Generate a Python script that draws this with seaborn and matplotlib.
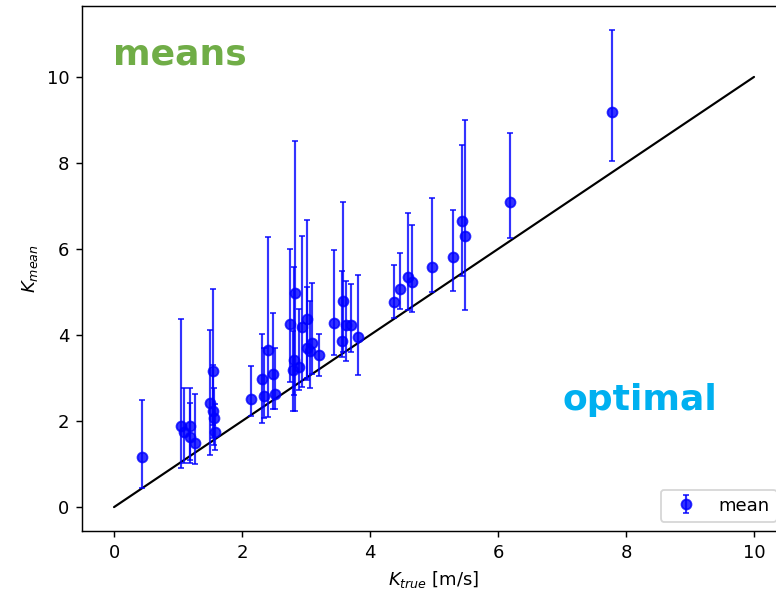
import numpy as np
import pandas as pd
import matplotlib
matplotlib.use("Agg")
import matplotlib.pyplot as plt
import seaborn as sns

# True vs. mean estimates with lower / upper bounds of each estimate
k_true = [0.44, 1.04, 1.09, 1.19, 1.19, 1.27, 1.50, 1.54, 1.55, 1.56, 1.57,
          2.14, 2.32, 2.35, 2.40, 2.48, 2.51, 2.75, 2.80, 2.82, 2.83, 2.89,
          2.93, 3.01, 3.02, 3.06, 3.10, 3.21, 3.44, 3.56, 3.58, 3.62, 3.70,
          3.82, 4.37, 4.47, 4.60, 4.66, 4.97, 5.30, 5.44, 5.49, 6.19, 7.78]
k_mean = [1.16, 1.88, 1.75, 1.89, 1.64, 1.50, 2.41, 2.24, 3.17, 2.06, 1.75,
          2.51, 2.98, 2.59, 3.65, 3.10, 2.64, 4.26, 3.19, 3.42, 4.98, 3.25,
          4.19, 4.37, 3.69, 3.63, 3.82, 3.53, 4.29, 3.85, 4.80, 4.23, 4.23,
          3.96, 4.76, 5.06, 5.36, 5.24, 5.57, 5.82, 6.64, 6.31, 7.10, 9.19]
k_low = [0.44, 0.90, 1.03, 1.03, 1.10, 1.01, 1.21, 1.60, 1.90, 1.45, 1.33,
         2.12, 1.96, 2.07, 2.09, 2.27, 2.27, 2.90, 2.23, 2.60, 2.23, 2.72,
         2.80, 3.00, 2.95, 2.78, 3.10, 3.05, 3.53, 3.50, 3.60, 3.40, 3.60,
         3.07, 4.39, 4.60, 4.58, 4.54, 4.99, 5.02, 5.37, 4.58, 6.26, 8.05]
k_high = [2.49, 4.37, 2.78, 2.77, 2.43, 2.64, 4.12, 3.30, 5.08, 2.78, 2.40,
          3.29, 4.02, 3.70, 6.29, 4.52, 3.69, 5.99, 4.10, 5.57, 8.50, 4.60,
          6.30, 6.67, 5.11, 4.80, 5.20, 4.02, 5.98, 5.50, 7.10, 5.25, 5.19,
          5.40, 5.63, 5.90, 6.84, 6.56, 7.18, 6.91, 8.42, 9.00, 8.70, 11.09]
ref_line = [0, 10]

df = pd.DataFrame({"true": k_true, "mean": k_mean, "low": k_low, "high": k_high})

sns.set_style("ticks", rc={
    "axes.edgecolor": "black",
    "axes.labelcolor": "black",
    "xtick.color": "black",
    "ytick.color": "black",
    "text.color": "black",
    "axes.linewidth": 1.0,
})
plt.rcParams["font.family"] = ["DejaVu Sans"]
plt.rcParams["mathtext.fontset"] = "dejavusans"

fig = plt.figure(figsize=(776 / 130, 595 / 130), dpi=130)
ax = fig.add_axes([0.1057, 0.1076, 0.9072, 0.8824])

yerr = np.vstack([df["mean"] - df["low"], df["high"] - df["mean"]])
ax.errorbar(df["true"], df["mean"], yerr=yerr, fmt="o", color="blue",
            alpha=0.8, markersize=5.5, elinewidth=1.2, capsize=1.5,
            capthick=1.0, label="mean", zorder=3)
sns.lineplot(x=ref_line, y=ref_line, color="black", linewidth=1.2, ax=ax,
             zorder=2)

ax.set_xlim(-0.5, 10.5)
ax.set_ylim(-0.555, 11.65)
ax.set_xticks([0, 2, 4, 6, 8, 10])
ax.set_yticks([0, 2, 4, 6, 8, 10])
ax.set_xlabel(r"$K_{true}$ [m/s]")
ax.set_ylabel(r"$K_{mean}$")
for side in ["top", "right"]:
    ax.spines[side].set_visible(True)

ax.legend(loc="lower right")

fig.text(0.1456, 0.8908, "means", color="#70AD47", fontsize=20,
         fontweight="bold", ha="left", va="baseline")
fig.text(0.7255, 0.3109, "optimal", color="#00B0F0", fontsize=20,
         fontweight="bold", ha="left", va="baseline")

fig.savefig("out.png", dpi=130)
